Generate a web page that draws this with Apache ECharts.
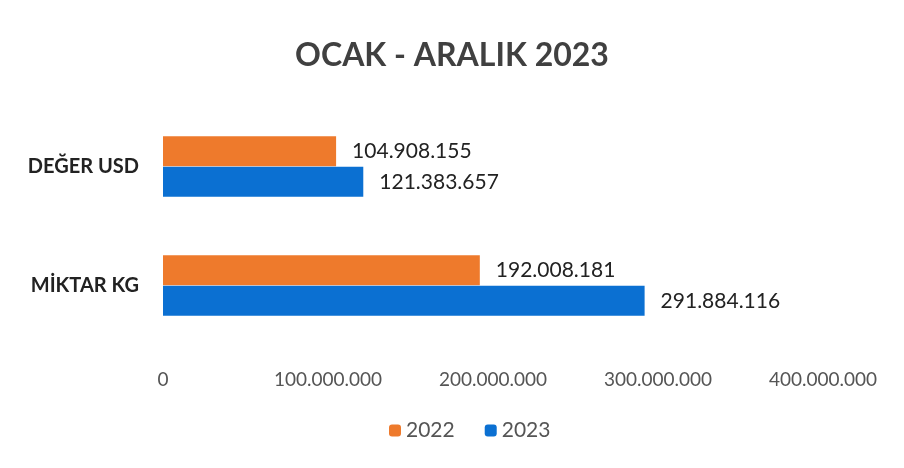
<!DOCTYPE html>
<html><head><meta charset="utf-8">
<script src="https://cdn.jsdelivr.net/npm/echarts@6/dist/echarts.min.js"></script>
<style>html,body{margin:0;padding:0;background:#fff}#c{width:904px;height:468px}</style>
</head><body><div id="c"></div>
<script>
const categories = ['DEĞER USD', 'MİKTAR KG'];
const values2022 = [104908155, 192008181];
const values2023 = [121383657, 291884116];
const seriesNames = ['2022', '2023'];
const xTicks = [0, 100000000, 200000000, 300000000, 400000000];

function fmt(v){ return String(Math.round(v)).replace(/\B(?=(\d{3})+(?!\d))/g, '.'); }
const FONT = 'Lato, "Open Sans", sans-serif';
const chart = echarts.init(document.getElementById('c'), null, {renderer:'canvas'});
chart.setOption({
  backgroundColor:'#fff',
  animation:false,
  title:{text:'OCAK - ARALIK 2023', left:'center', top:35,
    textStyle:{fontFamily:FONT, fontSize:32, fontWeight:'bold', color:'#404040'}},
  legend:{data:seriesNames, bottom:22, left:384, itemWidth:12, itemHeight:12, itemGap:30,
    textStyle:{fontFamily:FONT, fontSize:21, color:'#555'}},
  grid:{left:163, right:81, top:107, bottom:123, containLabel:false},
  xAxis:{type:'value', min:xTicks[0], max:xTicks[xTicks.length-1], interval:100000000,
    axisLine:{show:false}, axisTick:{show:false}, splitLine:{show:false},
    axisLabel:{formatter:fmt, fontFamily:FONT, fontSize:19, color:'#555', margin:25}},
  yAxis:{type:'category', data:categories, inverse:true,
    axisLine:{show:false}, axisTick:{show:false},
    axisLabel:{fontFamily:FONT, fontSize:20, fontWeight:'bold', color:'#222', margin:24}},
  series:[
    {name:seriesNames[0], type:'bar', data:values2022, barWidth:30, barGap:'2%',
     itemStyle:{color:'#EE7A2C'},
     label:{show:true, position:'right', distance:16, formatter:p=>fmt(p.value), fontFamily:FONT, fontSize:21, color:'#222'}},
    {name:seriesNames[1], type:'bar', data:values2023, barWidth:30, barGap:'2%',
     itemStyle:{color:'#0B70D2'},
     label:{show:true, position:'right', distance:16, formatter:p=>fmt(p.value), fontFamily:FONT, fontSize:21, color:'#222'}}
  ]
});
</script></body></html>
